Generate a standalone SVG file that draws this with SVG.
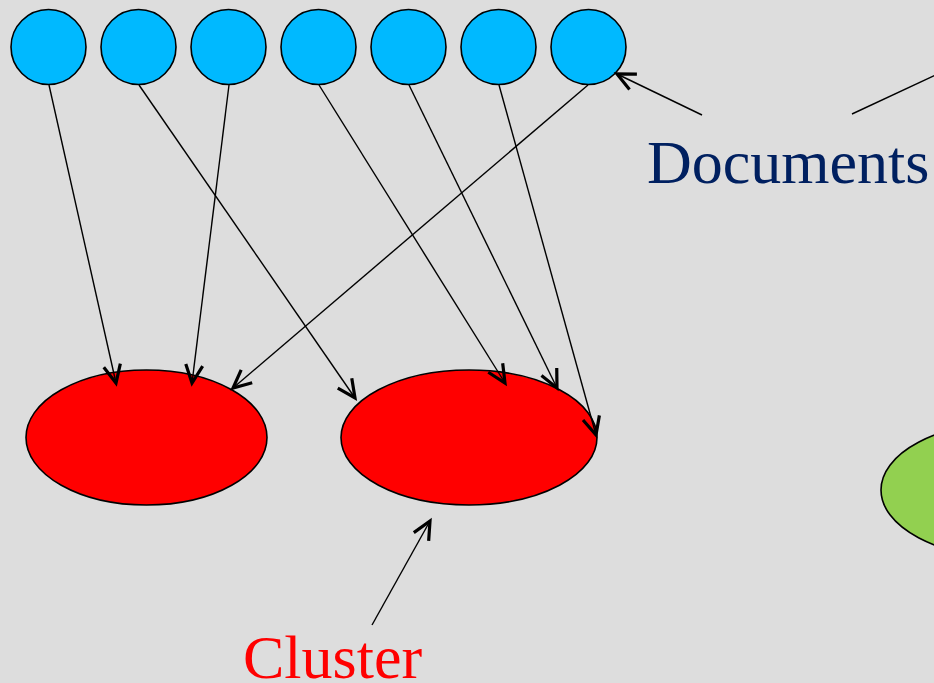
<svg xmlns="http://www.w3.org/2000/svg" width="934" height="683" viewBox="0 0 934 683">
<style>
.doc{fill:#00B9FF;stroke:#000;stroke-width:1.6}
.cl{fill:#FF0000;stroke:#000;stroke-width:1.6}
.gr{fill:#92D050;stroke:#000;stroke-width:1.6}
.ln{stroke:#000;stroke-width:1.4;fill:none}
.lbl{font-family:"Liberation Serif","Times New Roman",serif;font-size:62px}
</style>
<defs>
<marker id="ah" markerUnits="userSpaceOnUse" markerWidth="30" markerHeight="30" refX="0" refY="0" viewBox="-22 -15 30 30" orient="auto" overflow="visible">
<path d="M-18,-8.5 L0,0 L-18,8.5" fill="none" stroke="#000" stroke-width="3.2" stroke-linejoin="miter"/>
</marker>
</defs>
<rect width="934" height="683" fill="#DDDDDD"/>
<g id="cluster-green"><ellipse class="gr" cx="1009" cy="490" rx="128" ry="67.5"/></g>
<g id="cluster1"><ellipse class="cl" cx="146.5" cy="437.5" rx="120.5" ry="67.5"/></g>
<g id="cluster2"><ellipse class="cl" cx="469" cy="437.5" rx="128" ry="67.5"/></g>
<g id="doc1"><circle class="doc" cx="48.5" cy="47" r="37.5"/></g>
<g id="doc2"><circle class="doc" cx="138.5" cy="47" r="37.5"/></g>
<g id="doc3"><circle class="doc" cx="228.5" cy="47" r="37.5"/></g>
<g id="doc4"><circle class="doc" cx="318.5" cy="47" r="37.5"/></g>
<g id="doc5"><circle class="doc" cx="408.5" cy="47" r="37.5"/></g>
<g id="doc6"><circle class="doc" cx="498.5" cy="47" r="37.5"/></g>
<g id="doc7"><circle class="doc" cx="588.5" cy="47" r="37.5"/></g>
<g id="connectors">
<line class="ln" x1="49" y1="85" x2="116" y2="383" marker-end="url(#ah)"/>
<line class="ln" x1="139" y1="85" x2="355" y2="398" marker-end="url(#ah)"/>
<line class="ln" x1="229" y1="85" x2="192" y2="383" marker-end="url(#ah)"/>
<line class="ln" x1="319" y1="85" x2="505" y2="383" marker-end="url(#ah)"/>
<line class="ln" x1="409" y1="85" x2="557" y2="388" marker-end="url(#ah)"/>
<line class="ln" x1="499" y1="85" x2="596" y2="435" marker-end="url(#ah)"/>
<line class="ln" x1="588" y1="85" x2="233" y2="388" marker-end="url(#ah)"/>
<line class="ln" x1="702" y1="115" x2="617" y2="74" marker-end="url(#ah)"/>
<line class="ln" x1="852" y1="114" x2="940" y2="73"/>
<line class="ln" x1="372" y1="625" x2="430" y2="521" marker-end="url(#ah)"/>
</g>
<g id="label-documents"><text class="lbl" x="647" y="183" fill="#002060">Documents</text></g>
<g id="label-cluster"><text class="lbl" x="243" y="678" fill="#FF0000">Cluster</text></g>
</svg>
